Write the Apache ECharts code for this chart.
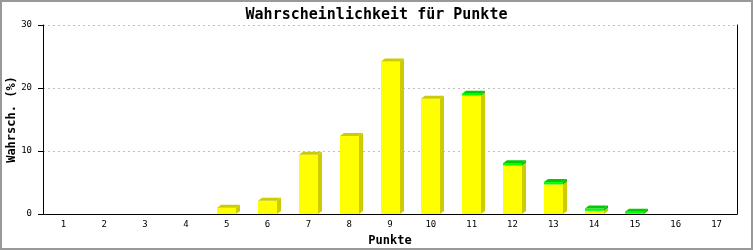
<!DOCTYPE html>
<html><head><meta charset="utf-8">
<script src="https://cdn.jsdelivr.net/npm/echarts@6/dist/echarts.min.js"></script>
<style>html,body{margin:0;padding:0;background:#fff}#c{width:753px;height:250px}</style>
</head><body><div id="c"></div>
<script>
const categories = ['1','2','3','4','5','6','7','8','9','10','11','12','13','14','15','16','17'];
const yellowValues = [0,0,0,0,1.0,2.1,9.4,12.4,24.2,18.3,18.8,7.7,4.7,0.5,0.05,0,0];
const greenValues  = [0,0,0,0,0,0,0,0,0,0,0.3,0.37,0.37,0.37,0.32,0,0];
const yTicks = [0,10,20,30];

const chart = echarts.init(document.getElementById('c'));
const MONO = '"DejaVu Sans Mono", "Liberation Mono", monospace';
function renderBar(params, api){
  const i = api.value(0), yv = api.value(1), gv = api.value(2);
  if (yv + gv <= 0) return null;
  const base = api.coord([i, 0]);
  const pY = api.coord([i, yv]);
  const pT = api.coord([i, yv + gv]);
  const w = 19, dx = 4, dy = 3;
  const x0 = Math.round(base[0] - w/2), x1 = x0 + w;
  const b = base[1];
  const kids = [];
  kids.push({type:'polygon', shape:{points:[[x1,pY[1]],[x1+dx,pY[1]-dy],[x1+dx,b-dy],[x1,b]]}, style:{fill:'#cccc00'}});
  kids.push({type:'rect', shape:{x:x0,y:pY[1],width:w,height:b-pY[1]}, style:{fill:'#ffff00'}});
  if (gv > 0){
    kids.push({type:'polygon', shape:{points:[[x1,pT[1]],[x1+dx,pT[1]-dy],[x1+dx,pY[1]-dy],[x1,pY[1]]]}, style:{fill:'#00bb00'}});
    kids.push({type:'rect', shape:{x:x0,y:pT[1],width:w,height:pY[1]-pT[1]}, style:{fill:'#00ff00'}});
  }
  kids.push({type:'polygon', shape:{points:[[x0,pT[1]],[x1,pT[1]],[x1+dx,pT[1]-dy],[x0+dx,pT[1]-dy]]}, style:{fill: gv > 0 ? '#00cc00' : '#cccc00'}});
  return {type:'group', children:kids};
}
chart.setOption({
  animation:false,
  backgroundColor:'#fff',
  title:{text:'Wahrscheinlichkeit für Punkte', left:'center', top:3,
    textStyle:{fontFamily:MONO, fontSize:15, fontWeight:'bold', color:'#000'}},
  graphic:[{type:'rect', shape:{x:1,y:1,width:751,height:248}, style:{fill:'none', stroke:'#999', lineWidth:2}, silent:true}],
  grid:{left:43, right:16, top:25, bottom:36, containLabel:false, outerBoundsMode:'none'},
  xAxis:{type:'category', data:categories, boundaryGap:true,
    name:'Punkte', nameLocation:'middle', nameGap:21, nameMoveOverlap:false,
    nameTextStyle:{fontFamily:MONO, fontSize:12, fontWeight:'bold', color:'#000'},
    axisLine:{lineStyle:{color:'#000', width:1}}, axisTick:{show:false},
    axisLabel:{fontFamily:MONO, fontSize:9, color:'#000', margin:6}},
  yAxis:[{type:'value', min:0, max:30, interval:10,
    name:'Wahrsch. (%)', nameLocation:'middle', nameGap:25, nameRotate:90, nameMoveOverlap:false,
    nameTextStyle:{fontFamily:MONO, fontSize:12, fontWeight:'bold', color:'#000'},
    axisLine:{show:true, lineStyle:{color:'#000', width:1}},
    axisTick:{show:true, length:5, lineStyle:{color:'#000'}},
    axisLabel:{fontFamily:MONO, fontSize:9, color:'#000', margin:11,
      formatter:v => yTicks.includes(v) ? String(v) : ''},
    splitLine:{show:true, lineStyle:{color:'#c0c0c0', type:[2,3]}}},
   {type:'value', min:0, max:30, position:'right',
    axisLine:{show:true, lineStyle:{color:'#000', width:1}},
    axisTick:{show:false}, axisLabel:{show:false}, splitLine:{show:false}}],
  series:[{type:'custom', renderItem:renderBar, clip:false,
    encode:{x:0, y:1},
    data:categories.map((c,i)=>[i, yellowValues[i], greenValues[i]])}]
});
</script></body></html>
